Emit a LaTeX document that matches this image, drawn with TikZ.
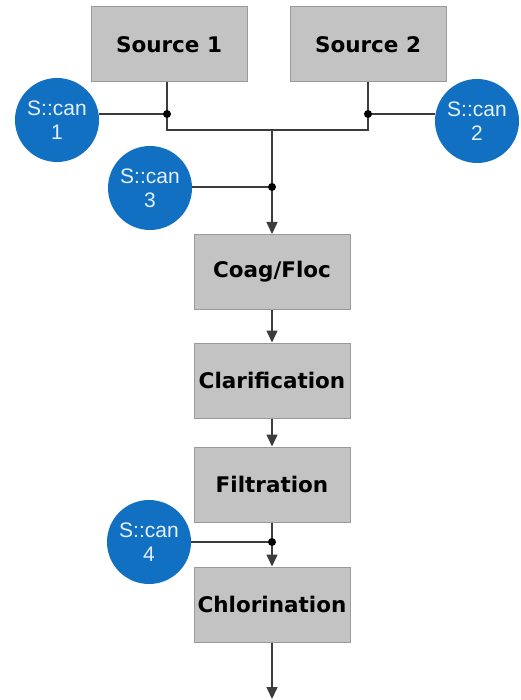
\documentclass[tikz,border=0pt]{standalone}
\usepackage{fontspec}
\setmainfont{DejaVu Sans}
\newfontfamily\scanfont{Liberation Sans}
\usepackage{tikz}
\usetikzlibrary{arrows.meta}
\definecolor{boxgray}{HTML}{C3C3C3}
\definecolor{boxedge}{HTML}{9A9A9A}
\definecolor{scanblue}{HTML}{1170C2}
\definecolor{scantext}{HTML}{E4F0FB}
\definecolor{linegray}{HTML}{3C3C3C}
\tikzset{
  stage/.style = {draw=boxedge, fill=boxgray, line width=1pt,
    minimum width=156pt, minimum height=75pt, inner sep=0pt,
    font=\fontsize{21.5}{24}\selectfont\bfseries},
  scan/.style = {circle, fill=scanblue, text=scantext, minimum size=84pt,
    inner sep=0pt, align=center,
    font=\scanfont\fontsize{21}{24}\selectfont},
  pipe/.style = {draw=linegray, line width=1.5pt},
  flow/.style = {pipe, -{Triangle[length=12pt,width=11pt]}},
  tap/.style = {circle, fill=black, inner sep=0pt, minimum size=8pt}
}

\begin{document}
\begin{tikzpicture}[x=1pt, y=-1pt]
\useasboundingbox (0,0) rectangle (520,700);

% treatment stages
\node[stage] (src1) at (169,44.5) {Source 1};
\node[stage] (src2) at (368,44.5) {Source 2};
\node[stage] (coag) at (272,272) {Coag/Floc};
\node[stage] (clar) at (272,380.5) {Clarification};
\node[stage] (filt) at (272,484.5) {Filtration};
\node[stage] (chlor) at (272,604.5) {Chlorination};

% sensors
\node[scan] (scan1) at (57,120) {S::can\\1};
\node[scan] (scan2) at (477,121) {S::can\\2};
\node[scan] (scan3) at (150,188) {S::can\\3};
\node[scan] (scan4) at (149,542) {S::can\\4};

% junction points
\coordinate (j1) at (167,114);
\coordinate (j2) at (368,114);
\coordinate (b1) at (167,130);
\coordinate (b2) at (368,130);
\coordinate (bm) at (272,130);
\coordinate (j3) at (272,187);
\coordinate (j4) at (272,542);
\coordinate (out) at (272,699);

\draw[pipe] (src1.south -| j1) -- (b1) -- (b2) -- (src2.south -| j2);
\draw[flow] (bm) -- (coag.north);
\draw[flow] (coag) -- (clar);
\draw[flow] (clar) -- (filt);
\draw[flow] (filt) -- (chlor);
\draw[flow] (chlor) -- (out);

%\draw (scan1) -- (j1);
\draw[pipe] (j1 -| scan1.east) -- (j1);
\draw[pipe] (j2 -| scan2.west) -- (j2);
\draw[pipe] (j3 -| scan3.east) -- (j3);
\draw[pipe] (j4 -| scan4.east) -- (j4);

\node[tap] (d1) at (j1) {};
\node[tap] (d2) at (j2) {};
\node[tap] (d3) at (j3) {};
\node[tap] (d4) at (j4) {};

\end{tikzpicture}
\end{document}
